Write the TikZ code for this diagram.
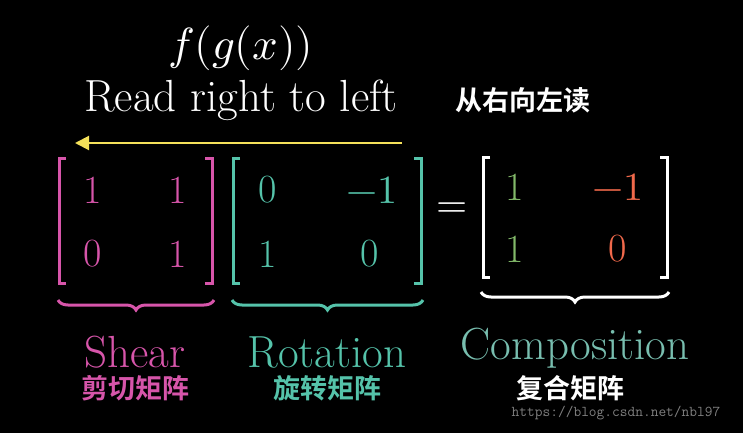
\documentclass[tikz,border=0pt]{standalone}
\usepackage{unicode-math}
\setmathfont{Latin Modern Math}
\newfontfamily\cjk{Noto Sans CJK SC}[BoldFont={Noto Sans CJK SC Bold}]
\usetikzlibrary{decorations.pathreplacing,arrows.meta}
\definecolor{shearc}{RGB}{215,85,170}
\definecolor{rotc}{RGB}{85,195,170}
\definecolor{compc}{RGB}{120,190,175}
\definecolor{onec}{RGB}{130,185,105}
\definecolor{negc}{RGB}{240,105,75}
\definecolor{arrc}{RGB}{245,225,90}
\tikzset{every picture/.style={line width=0.75pt}}
\tikzset{
  big/.style={font=\fontsize{45}{50}\selectfont},
  ent/.style={font=\fontsize{40}{44}\selectfont},
  zh/.style={font=\fontsize{27}{30}\selectfont\cjk\bfseries},
  brk/.style={line width=3pt},
  brc/.style={line width=3pt,decorate,decoration={brace,mirror,amplitude=10pt}}
}
\begin{document}
\begin{tikzpicture}[x=1pt,y=-1pt]
\fill[black] (0,0) rectangle (743,433);
\useasboundingbox (0,0) rectangle (743,433);

% Title
\node[big,white] (fgx) at (241,48) {$f(g(x))$};
\node[big,white] (read) at (241,100) {Read right to left};
\node[zh,white] (cong) at (523,100) {从右向左读};
\coordinate (arrs) at (402,143);
\coordinate (arre) at (75,143);
\draw[arrc,line width=2pt,-{Triangle[length=14pt,width=14pt]}] (arrs) -- (arre);

% Shear matrix
\draw[brk,shearc] (66,158) -- (59,158) -- (59,283) -- (66,283);
\draw[brk,shearc] (205,158) -- (212,158) -- (212,283) -- (205,283);
\node[ent,shearc] (s11) at (93,190) {1};
\node[ent,shearc] (s12) at (178,190) {1};
\node[ent,shearc] (s21) at (93,254) {0};
\node[ent,shearc] (s22) at (178,254) {1};

% Rotation matrix
\draw[brk,rotc] (240,158) -- (233,158) -- (233,283) -- (240,283);
\draw[brk,rotc] (414,158) -- (421,158) -- (421,283) -- (414,283);
\node[ent,rotc] (r11) at (268,190) {0};
\node[ent,rotc] (r12) at (372,190) {$-1$};
\node[ent,rotc] (r21) at (268,254) {1};
\node[ent,rotc] (r22) at (370,254) {0};

\node[ent,white] (eq) at (452,210) {$=$};

% Composition matrix
\draw[brk,white] (490,157) -- (483,157) -- (483,277) -- (490,277);
\draw[brk,white] (660,157) -- (667,157) -- (667,277) -- (660,277);
\node[ent,onec] (c11) at (515,187) {1};
\node[ent,negc] (c12) at (618,187) {$-1$};
\node[ent,onec] (c21) at (515,249) {1};
\node[ent,negc] (c22) at (618,249) {0};

% Braces
\draw[brc,shearc] (58,300) -- (214,300);
\draw[brc,rotc] (232,300) -- (423,300);
\draw[brc,white] (481,292) -- (669,292);

% Labels
\node[big,shearc] (shear) at (135,352) {Shear};
\node[big,rotc] (rot) at (327,352) {Rotation};
\node[big,compc] (comp) at (575,348) {Composition};
\node[zh,shearc] (shearzh) at (135,388) {剪切矩阵};
\node[zh,rotc] (rotzh) at (327,388) {旋转矩阵};
\node[zh,white] (compzh) at (570,388) {复合矩阵};
\node[gray,font=\fontsize{15}{17}\selectfont\ttfamily] (url) at (616,413) {https://blog.csdn.net/nbl97};
\end{tikzpicture}
\end{document}
